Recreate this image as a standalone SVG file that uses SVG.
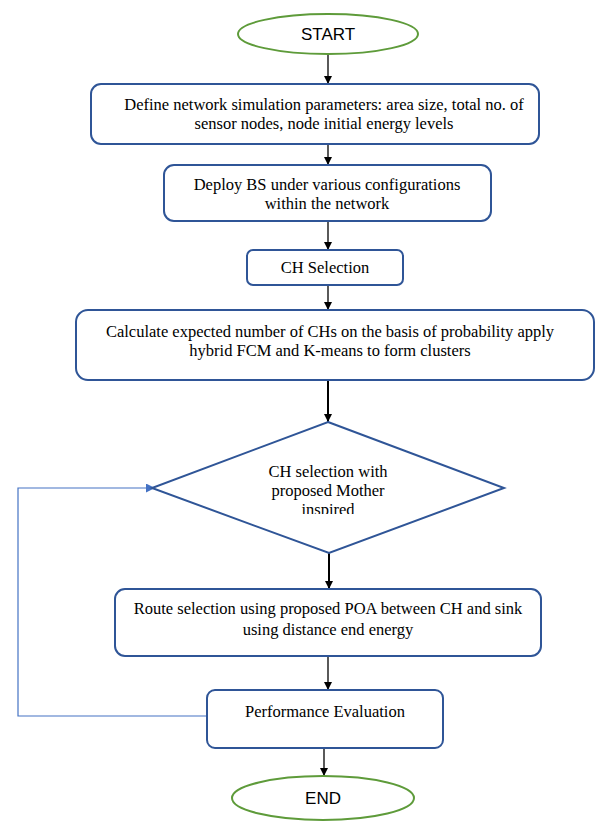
<svg xmlns="http://www.w3.org/2000/svg" width="616" height="826" viewBox="0 0 616 826">
<style>
.box{fill:#fff;stroke:#2F5597;stroke-width:2}
.term{fill:#fff;stroke:#5E9B3A;stroke-width:2}
.c{stroke:#000;stroke-width:1.3;fill:none;marker-end:url(#ah)}
</style>
<defs>
<marker id="ah" viewBox="0 0 10 10" refX="10" refY="5" markerWidth="8" markerHeight="8" markerUnits="userSpaceOnUse" orient="auto"><path d="M0,0L10,5L0,10z" fill="#000"/></marker>
<marker id="ahb" viewBox="0 0 10 10" refX="10" refY="5" markerWidth="9" markerHeight="9" markerUnits="userSpaceOnUse" orient="auto"><path d="M0,0L10,5L0,10z" fill="#4472C4"/></marker>
<clipPath id="dclip"><rect x="150" y="420" width="360" height="94"/></clipPath>
</defs>
<rect width="616" height="826" fill="#fff"/>
<g id="connectors">
<path class="c" d="M328,55V84"/>
<path class="c" d="M328,145V165"/>
<path class="c" d="M328,222V250"/>
<path class="c" d="M328,286V310"/>
<path class="c" d="M328,381V422" style="stroke-width:2"/>
<path class="c" d="M329,553V589" style="stroke-width:2"/>
<path class="c" d="M328,657V690"/>
<path class="c" d="M324,749V776"/>
<path d="M207,716H18V488H155" fill="none" stroke="#4472C4" stroke-width="1.2" marker-end="url(#ahb)"/>
</g>
<g id="start"><ellipse class="term" cx="328" cy="34" rx="90" ry="20"/><text x="328" y="40" font-family="Liberation Sans" font-size="17" text-anchor="middle">START</text></g>
<g id="end"><ellipse class="term" cx="323" cy="798" rx="91" ry="22"/><text x="323" y="804" font-family="Liberation Sans" font-size="17" text-anchor="middle">END</text></g>
<g id="define"><rect class="box" x="91" y="84" width="448" height="60" rx="10"/><text x="324" y="110" font-family="Liberation Serif" font-size="16.5" text-anchor="middle">Define network simulation parameters: area size, total no. of</text><text x="324" y="129" font-family="Liberation Serif" font-size="16.5" text-anchor="middle">sensor nodes, node initial energy levels</text></g>
<g id="deploy"><rect class="box" x="164" y="165" width="327" height="56" rx="10"/><text x="327" y="190" font-family="Liberation Serif" font-size="16.5" text-anchor="middle">Deploy BS under various configurations</text><text x="327" y="209" font-family="Liberation Serif" font-size="16.5" text-anchor="middle">within the network</text></g>
<g id="chsel"><rect class="box" x="247" y="250" width="156" height="35" rx="6"/><text x="325" y="273" font-family="Liberation Serif" font-size="16.5" text-anchor="middle">CH Selection</text></g>
<g id="calc"><rect class="box" x="76" y="310" width="518" height="70" rx="12"/><text x="330" y="337" font-family="Liberation Serif" font-size="16.5" text-anchor="middle">Calculate expected number of CHs on the basis of probability apply</text><text x="330" y="356" font-family="Liberation Serif" font-size="16.5" text-anchor="middle">hybrid FCM and K-means to form clusters</text></g>
<g id="diamond"><polygon points="328,422 504,488 329,553 152,488" fill="#fff" stroke="#2F5597" stroke-width="2"/><g clip-path="url(#dclip)"><text x="328" y="477" font-family="Liberation Serif" font-size="16.5" text-anchor="middle">CH selection with</text><text x="328" y="496" font-family="Liberation Serif" font-size="16.5" text-anchor="middle">proposed Mother</text><text x="328" y="515" font-family="Liberation Serif" font-size="16.5" text-anchor="middle">inspired</text></g></g>
<g id="route"><rect class="box" x="115" y="589" width="426" height="67" rx="10"/><text x="328" y="614" font-family="Liberation Serif" font-size="16.5" text-anchor="middle">Route selection using proposed POA between CH and sink</text><text x="328" y="635" font-family="Liberation Serif" font-size="16.5" text-anchor="middle">using distance end energy</text></g>
<g id="perf"><rect class="box" x="207" y="690" width="236" height="58" rx="8"/><text x="325" y="717" font-family="Liberation Serif" font-size="16.5" text-anchor="middle">Performance Evaluation</text></g>
</svg>
